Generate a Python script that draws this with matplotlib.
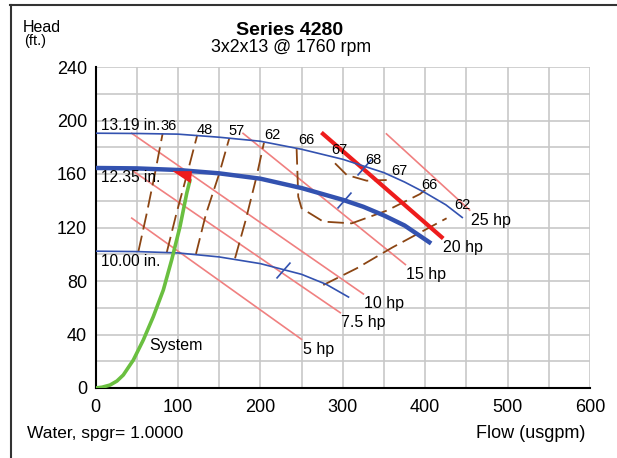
import numpy as np
import matplotlib
matplotlib.use('Agg')
import matplotlib.pyplot as plt
from matplotlib.lines import Line2D

plt.rcParams['font.family'] = ['Liberation Sans', 'DejaVu Sans']

# impeller curves (flow usgpm, head ft)
q_1319 = [0, 50, 100, 150, 200, 250, 300, 350, 375, 400, 425, 445]
h_1319 = [190.5, 190.3, 189.8, 187.5, 184.5, 178.5, 171, 161, 154, 146, 137, 127.5]
q_1235 = [0, 50, 100, 150, 200, 250, 300, 325, 350, 375, 405]
h_1235 = [164.5, 164.2, 163, 160.5, 156.5, 149.5, 140.7, 135.5, 129, 121.5, 109]
q_1000 = [0, 50, 100, 150, 200, 250, 280, 307]
h_1000 = [102.3, 102, 101, 98, 93, 85, 77.5, 68]
imp_labels = ['13.19 in.', '12.35 in.', '10.00 in.']

# best efficiency ticks on each impeller curve
bep_q = [326, 301, 227]
bep_h = [165.5, 140.5, 88.5]

# power lines
hp_labels = ['5 hp', '7.5 hp', '10 hp', '15 hp', '20 hp', '25 hp']
hp_q0 = [44, 46, 44, 179, 276, 353]
hp_h0 = [127, 162, 190.4, 190.4, 190, 190]
hp_q1 = [250, 297, 325, 376, 420, 454]
hp_h1 = [36.4, 56.3, 70.3, 92.3, 112.8, 133]

# efficiency contours
eff36_q = [52, 62, 72, 81.5]
eff36_h = [102, 130, 160, 190.4]
eff48_q = [86.4, 98, 112, 123.5]
eff48_h = [101.2, 130, 162, 189.2]
eff57_q = [121.9, 134, 150, 162.3]
eff57_h = [100.2, 130, 160, 186.7]
eff62_q = [169.3, 182, 195, 204.4]
eff62_h = [97, 125, 157, 183.4]
eff66_q = [244, 246, 250, 276.4, 310.8, 353.3, 393.7, 400]
eff66_h = [179.2, 143, 134.4, 124.4, 123.1, 132.6, 145, 148]
eff67_q = [290.6, 304.8, 329, 353.3]
eff67_h = [168, 159.3, 155, 155.5]
eff62r_q = [276.4, 317, 360, 426]
eff62r_h = [77, 89.5, 105, 126.9]

eff_labels = ['36', '48', '57', '62', '66', '67', '68', '67', '66', '62']
eff_lab_q = [89, 132.5, 171.7, 214.1, 255.4, 295.7, 337.6, 369.1, 404.8, 444.7]
eff_lab_h = [195.9, 193.2, 192.5, 189.2, 185.4, 178.3, 170.5, 162.4, 151.8, 136.8]

# system curve and operating point
sys_q = [0, 8, 17.6, 26, 33.7, 45.9, 58, 70.1, 82.3, 92.4, 102.5, 110.7, 114.7]
sys_h = [0, 0.6, 2.2, 5.2, 9.7, 20.9, 35.9, 53.3, 73.3, 95.7, 120.6, 145.6, 155.5]
op_q = [116]
op_h = [162]

blue = '#3352b0'
pink = '#f08080'
brown = '#8b4513'

fig = plt.figure(figsize=(6.17, 4.58), dpi=100)
ax = fig.add_axes([95.5/617, 70/458, 494.5/617, 321/458])

ax.set_xlim(0, 600)
ax.set_ylim(0, 240)
ax.set_xticks(np.arange(0, 601, 100))
ax.set_xticks(np.arange(0, 601, 50), minor=True)
ax.set_yticks(np.arange(0, 241, 40))
ax.set_yticks(np.arange(0, 241, 20), minor=True)
ax.grid(True, which='both', color='#c8c8c8', lw=1.2)
ax.set_axisbelow(True)
ax.tick_params(which='both', length=0, labelsize=13)
ax.tick_params(axis='x', pad=8)
ax.tick_params(axis='y', pad=6)
for s in ['top', 'right']:
    ax.spines[s].set_visible(False)
for s in ['left', 'bottom']:
    ax.spines[s].set_linewidth(1.5)

# power lines
for i in range(len(hp_labels)):
    if hp_labels[i] == '20 hp':
        ax.plot([hp_q0[i], hp_q1[i]], [hp_h0[i], hp_h1[i]], color='#ee1c1c', lw=3, zorder=4)
    else:
        ax.plot([hp_q0[i], hp_q1[i]], [hp_h0[i], hp_h1[i]], color=pink, lw=1.2, zorder=2)
    ax.annotate(hp_labels[i], (hp_q1[i], hp_h1[i]), xytext=(0.7, -7.2),
                textcoords='offset points', ha='left', va='center', fontsize=11.5)

# efficiency contours
for q, h in [(eff36_q, eff36_h), (eff48_q, eff48_h), (eff57_q, eff57_h), (eff62_q, eff62_h),
             (eff66_q, eff66_h), (eff67_q, eff67_h), (eff62r_q, eff62r_h)]:
    ax.plot(q, h, color=brown, lw=1.3, dashes=(9, 3.5), zorder=3)
for lab, q, h in zip(eff_labels, eff_lab_q, eff_lab_h):
    ax.text(q, h, lab, ha='center', va='center', fontsize=10.5, zorder=6)

# impeller curves
ax.plot(q_1319, h_1319, color=blue, lw=1.2, zorder=5)
ax.plot(q_1235, h_1235, color=blue, lw=3.2, zorder=5)
ax.plot(q_1000, h_1000, color=blue, lw=1.2, zorder=5)
ax.plot(bep_q, bep_h, ls='none', marker=[(-7, -8), (7, 8)], ms=11.5, mec=blue, mew=1.2, zorder=5)
ax.annotate(imp_labels[0], (q_1319[0], h_1319[0]), xytext=(4.3, 5.5), textcoords='offset points',
            ha='left', va='center', fontsize=11.2, zorder=6)
ax.annotate(imp_labels[1], (q_1235[0], h_1235[0]), xytext=(4.3, -7), textcoords='offset points',
            ha='left', va='center', fontsize=11.2, zorder=6)
ax.annotate(imp_labels[2], (q_1000[0], h_1000[0]), xytext=(4.3, -7.2), textcoords='offset points',
            ha='left', va='center', fontsize=11.2, zorder=6)

# system curve
ax.plot(sys_q, sys_h, color='#6abf40', lw=2.6, zorder=6, solid_capstyle='round')
ax.text(65, 32, 'System', ha='left', va='center', fontsize=11.5)
ax.plot(op_q, op_h, ls='none', marker=[(-18.4, 0), (0, 0), (-1, -11.6)], ms=26.5,
        mfc='#ee1c1c', mec='#ee1c1c', mew=0.5, zorder=7)

# titles and labels
fig.text(290/617, 1 - 35/458, 'Series 4280', ha='center', va='baseline', fontsize=14, fontweight='bold')
fig.text(291/617, 1 - 52.5/458, '3x2x13 @ 1760 rpm', ha='center', va='baseline', fontsize=12.8)
fig.text(23/617, 1 - 32.5/458, 'Head', ha='left', va='baseline', fontsize=11.5)
fig.text(24/617, 1 - 45.5/458, '(ft.)', ha='left', va='baseline', fontsize=10.5)
fig.text(27.3/617, 1 - 438.3/458, 'Water, spgr= 1.0000', ha='left', va='baseline', fontsize=12.5)
fig.text(585/617, 1 - 437.5/458, 'Flow (usgpm)', ha='right', va='baseline', fontsize=13)

# frame
fig.add_artist(Line2D([10/617, 1], [1 - 5/458, 1 - 5/458], color='#333333', lw=1.5))
fig.add_artist(Line2D([11/617, 11/617], [0, 1 - 5/458], color='#333333', lw=1.5))

fig.savefig('out.png', dpi=100)
